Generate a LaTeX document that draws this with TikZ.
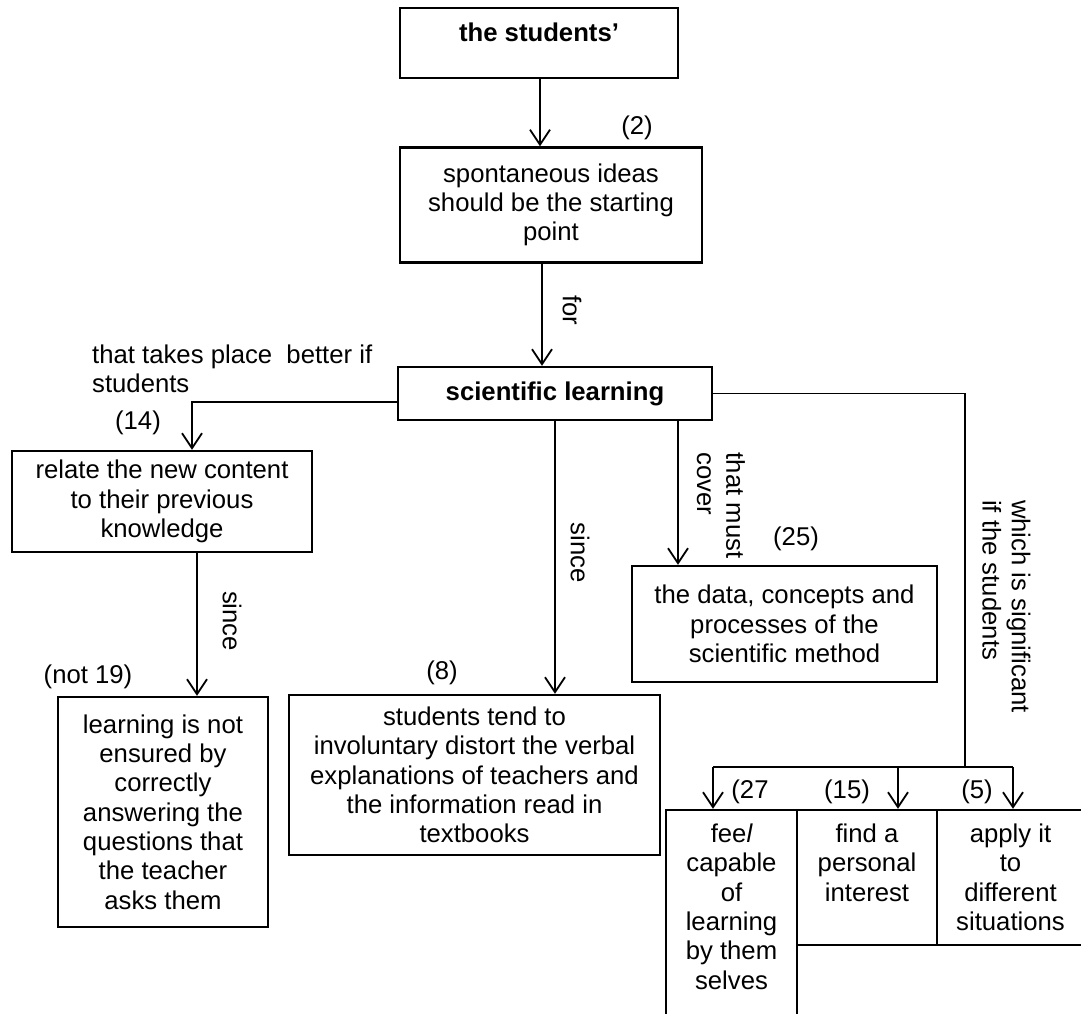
\documentclass[tikz,border=0pt]{standalone}
\usepackage{fontspec}
\setmainfont{Liberation Sans}
\usetikzlibrary{arrows.meta}
% text block of fixed size, lines centred and hung from the top
\newcommand\toplines[4]{\parbox[c][#2][t]{#1}{\centering\vspace*{#3}#4\par}}
\begin{document}
\begin{tikzpicture}[x=1pt,y=-1pt,
  txt/.style={font=\fontsize{25.7}{29.3}\selectfont},
  box/.style={draw, line width=2.4pt, inner sep=0pt, align=center, txt},
  link/.style={line width=1.8pt},
  arr/.style={link, -{Straight Barb[length=15pt,width=20pt]}},
  lbl/.style={txt, inner sep=0pt},
  vlbl/.style={lbl, rotate=-90, align=left}]
\useasboundingbox (0,0) rectangle (1081,1013);
\clip (0,0) rectangle (1081,1013);
\fill[white] (0,0) rectangle (1081,1013);

% concept boxes
\node[box, minimum width=278pt, minimum height=70pt] (stud) at (539,43)
  {\toplines{270pt}{70pt}{15pt}{\bfseries the students’}};
\node[box, minimum width=302pt, minimum height=115pt] (spont) at (551,205)
  {spontaneous ideas\\should be the starting\\point};
\node[box, minimum width=314pt, minimum height=53pt] (sci) at (555,393.5)
  {\bfseries scientific learning};
\node[box, minimum width=300pt, minimum height=101pt] (relate) at (162,501.5)
  {relate the new content\\to their previous\\knowledge};
\node[box, minimum width=210pt, minimum height=230pt] (learn) at (163,812)
  {learning is not\\ensured by\\correctly\\answering the\\questions that\\the teacher\\asks them};
\node[box, minimum width=371pt, minimum height=160pt] (stu) at (474.5,775)
  {students tend to\\involuntary distort the verbal\\explanations of teachers and\\the information read in\\textbooks};
\node[box, minimum width=305pt, minimum height=116pt] (data) at (784.5,624)
  {the data, concepts and\\processes of the\\scientific method};
\node[box, minimum width=131pt, minimum height=215pt] (feel) at (731.5,917.5)
  {\toplines{125pt}{215pt}{14pt}{fee{\itshape l}\\capable\\of\\learning\\by them\\selves}};
\node[box, minimum width=140pt, minimum height=135pt] (find) at (867,877.5)
  {\toplines{134pt}{135pt}{14pt}{find a\\personal\\interest}};
\node[box, minimum width=147pt, minimum height=135pt] (apply) at (1010.5,877.5)
  {\toplines{140pt}{135pt}{14pt}{apply it\\to\\different\\situations}};

% link words and counts
\node[lbl] (n2) at (637,128) {(2)};
\node[vlbl] (for) at (572,310) {for};
\node[lbl, align=left, anchor=north west] (cond) at (92,344.5) {that takes place~ better if\\students};
\node[lbl] (n14) at (138,423) {(14)};
\node[vlbl] (since1) at (232,621) {since};
\node[lbl] (n19) at (88,677) {(not 19)};
\node[vlbl] (since2) at (580,552.5) {since};
\node[lbl] (n8) at (442,673) {(8)};
\node[vlbl] (cover) at (721,505.5) {that must\\cover};
\node[lbl] (n25) at (796,539) {(25)};
\node[vlbl] (signif) at (1006.5,606.5) {which is significant\\if the students};
\node[lbl] (n27) at (750,792) {(27};
\node[lbl] (n15) at (847,792) {(15)};
\node[lbl] (n5) at (977,792) {(5)};

% columns used by the connectors
\coordinate (xa) at (540,0);
\coordinate (xb) at (542,0);
\coordinate (xl) at (192,0);
\coordinate (xs) at (197,0);
\coordinate (xm) at (555,0);
\coordinate (xc) at (678,0);
\coordinate (xf) at (713,0);
\coordinate (xi) at (898,0);
\coordinate (xp) at (1013,0);
\coordinate (bar) at (965,767);

% connectors
\draw[arr] (stud.south -| xa) -- (spont.north -| xa);
\draw[arr] (spont.south -| xb) -- (sci.north -| xb);
\draw[arr] ([yshift=-8.5pt]sci.west) -| (relate.north -| xl);
\draw[arr] (relate.south -| xs) -- (learn.north -| xs);
\draw[arr] (sci.south -| xm) -- (stu.north -| xm);
\draw[arr] (sci.south -| xc) -- (data.north -| xc);
\draw[link] (sci.east) -| (bar);
\draw[link] (bar -| xf) -- (bar -| xp);
\draw[arr] (bar -| xf) -- (feel.north -| xf);
\draw[arr] (bar -| xi) -- (find.north -| xi);
\draw[arr] (bar -| xp) -- (apply.north -| xp);
\end{tikzpicture}
\end{document}
